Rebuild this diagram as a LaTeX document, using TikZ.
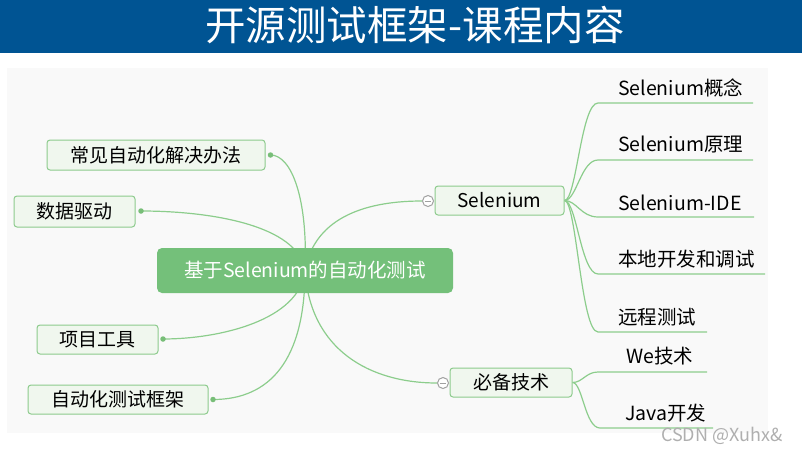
\documentclass[tikz,border=0pt]{standalone}
\usepackage{fontspec}
\setmainfont{Noto Sans CJK SC}
\pgfdeclarelayer{bottom}
\pgfdeclarelayer{links}
\pgfsetlayers{bottom,links,main}
\definecolor{titleblue}{RGB}{0,84,147}
\definecolor{panel}{RGB}{249,249,249}
\definecolor{nodefill}{RGB}{240,247,238}
\definecolor{nodeline}{RGB}{141,203,141}
\definecolor{linkgreen}{RGB}{140,205,140}
\definecolor{dotgreen}{RGB}{120,190,120}
\definecolor{mainfill}{RGB}{116,192,122}
\definecolor{knobgray}{RGB}{160,160,160}
\definecolor{wmgray}{RGB}{175,175,175}
\tikzset{
  topic/.style={draw=nodeline, fill=nodefill, rounded corners=3pt, line width=1pt,
    inner sep=0pt, font=\fontsize{19}{19}\selectfont, text=black},
  maintopic/.style={fill=mainfill, rounded corners=5pt, inner sep=0pt,
    font=\fontsize{19.5}{19.5}\selectfont, text=white},
  leaf/.style={inner sep=0pt, anchor=west, font=\fontsize{19.5}{19.5}\selectfont, text=black},
  link/.style={draw=linkgreen, line width=1.2pt},
  dotnode/.style={circle, fill=dotgreen, minimum size=5.5pt, inner sep=0pt},
  knob/.style={circle, draw=knobgray, fill=white, line width=1pt, minimum size=11pt, inner sep=0pt,
    path picture={\draw[knobgray, line width=1pt]
      ([xshift=-3.2pt]path picture bounding box.center) -- ([xshift=3.2pt]path picture bounding box.center);}},
}
\begin{document}
\begin{tikzpicture}[x=1pt,y=-1pt]
\useasboundingbox (0,0) rectangle (802,452);
% background
\begin{pgfonlayer}{bottom}
  \fill[white] (0,0) rectangle (802,452);
  \fill[panel] (7,68) rectangle (768,433);
  \fill[titleblue] (0,0) rectangle (802,53);
\end{pgfonlayer}
\node[text=white, font=\fontsize{40.5}{40.5}\selectfont, inner sep=0pt] (title) at (415,25) {开源测试框架-课程内容};

% nodes
\node[maintopic, minimum width=296pt, minimum height=45pt] (c) at (305,270.5) {基于Selenium的自动化测试};

\node[topic, minimum width=218pt, minimum height=30pt] (n1) at (156,155) {常见自动化解决办法};
\node[topic, minimum width=121pt, minimum height=31pt] (n2) at (74.5,211.5) {数据驱动};
\node[topic, minimum width=121pt, minimum height=29pt] (n3) at (97.5,339.5) {项目工具};
\node[topic, minimum width=180pt, minimum height=29pt] (n4) at (118,399.5) {自动化测试框架};

\node[dotnode] (d1) at (270.5,155) {};
\node[dotnode] (d2) at (141,211) {};
\node[dotnode] (d3) at (163,339) {};
\node[dotnode] (d4) at (213,399.5) {};

\node[topic, minimum width=129pt, minimum height=29pt] (sel) at (499.5,200.5) {Selenium};
\node[topic, minimum width=122pt, minimum height=29pt] (bei) at (511,382.5) {必备技术};
\node[knob] (k1) at (428,201) {};
\node[knob] (k2) at (443,383) {};

% leaves
\node[leaf] (l1) at (618,88) {Selenium概念};
\node[leaf] (l2) at (618,145) {Selenium原理};
\node[leaf] (l3) at (618,203) {Selenium-IDE};
\node[leaf] (l4) at (618,259.5) {本地开发和调试};
\node[leaf] (l5) at (618,317) {远程测试};
\node[leaf] (l6) at (626,356) {We技术};
\node[leaf] (l7) at (625,413) {Java开发};

\coordinate (s1) at (598,103);  \coordinate (e1) at (753,103);
\coordinate (s2) at (598,160);  \coordinate (e2) at (753,160);
\coordinate (s3) at (598,217);  \coordinate (e3) at (754,217);
\coordinate (s4) at (598,274);  \coordinate (e4) at (765,274);
\coordinate (s5) at (598,332);  \coordinate (e5) at (707,332);
\coordinate (s6) at (598,372);  \coordinate (e6) at (707,372);
\coordinate (s7) at (600,428);  \coordinate (e7) at (713,428);

\node[text=wmgray, font=\fontsize{18}{18}\selectfont, inner sep=0pt, anchor=west] (wm) at (661,436) {CSDN @Xuhx\&};

% links
\begin{pgfonlayer}{links}
  \draw[link] (c.center) .. controls (308,200) and (292,155) .. (d1.center);
  \draw[link] (c.center) .. controls (298,225) and (210,211) .. (d2.center);
  \draw[link] (c.center) .. controls (300,320) and (220,339) .. (d3.center);
  \draw[link] (c.center) .. controls (305,360) and (270,399.5) .. (d4.center);
  \draw[link] (c.center) .. controls (315,215) and (370,201) .. (k1.west);
  \draw[link] (c.center) .. controls (310,350) and (370,383) .. (k2.west);

  \draw[link] (sel.east) .. controls +(12,0) and +(-17,0) .. (s1) -- (e1);
  \draw[link] (sel.east) .. controls +(12,0) and +(-17,0) .. (s2) -- (e2);
  \draw[link] (sel.east) .. controls +(12,0) and +(-17,0) .. (s3) -- (e3);
  \draw[link] (sel.east) .. controls +(12,0) and +(-17,0) .. (s4) -- (e4);
  \draw[link] (sel.east) .. controls +(12,0) and +(-17,0) .. (s5) -- (e5);
  \draw[link] (bei.east) .. controls +(10,0) and +(-12,0) .. (s6) -- (e6);
  \draw[link] (bei.east) .. controls +(10,0) and +(-15,0) .. (s7) -- (e7);
\end{pgfonlayer}
\end{tikzpicture}
\end{document}
